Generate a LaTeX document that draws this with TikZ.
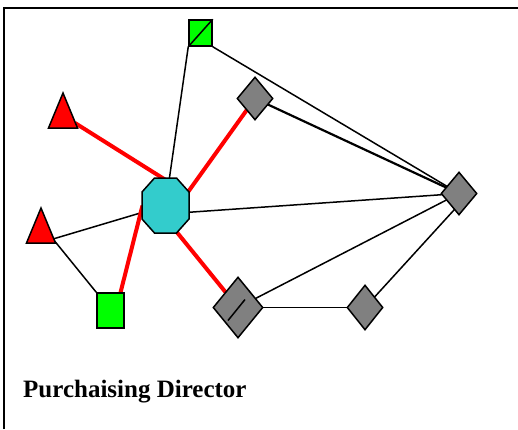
\documentclass[tikz,border=0pt]{standalone}
\usepackage{fontspec}
\setmainfont{Liberation Serif}
\usetikzlibrary{shapes.geometric,calc}
\definecolor{actgreen}{RGB}{0,255,0}
\definecolor{actred}{RGB}{255,0,0}
\definecolor{actteal}{RGB}{51,204,204}
\definecolor{actgrey}{RGB}{128,128,128}
\tikzset{
  tie/.style={black,line width=1.5pt},
  strongtie/.style={actred,line width=4pt},
  shapeline/.style={draw=black,line width=1.5pt,line join=miter},
  gsquare/.style={shapeline,fill=actgreen,rectangle,inner sep=0pt},
  gdiamond/.style={shapeline,fill=actgrey,diamond,inner sep=0pt},
}
\begin{document}
\begin{tikzpicture}[x=1pt,y=-1pt]
\useasboundingbox (0,0) rectangle (518,429);
% frame
\draw[line width=1.4pt] (4,429) -- (4,8) -- (518,8);

% actor positions
\coordinate (t1) at (63,111);
\coordinate (t2) at (41,226);
\coordinate (oct) at (165.5,205.5);
\node[gsquare,minimum width=23pt,minimum height=26pt] (gt) at (200.5,33) {};
\node[gsquare,minimum width=27pt,minimum height=35pt] (gb) at (110.5,310.5) {};
\coordinate (d1) at (255,98.5);
\coordinate (rd) at (459,193.5);
\coordinate (bd) at (238,307.5);
\coordinate (sd) at (365,307.5);

% ties
\draw[tie] (gt.south west) -- (oct);
\draw[tie] (gt.south east) -- (rd);
\draw[black,line width=2.2pt] (d1) -- (rd);
\draw[tie] ($(oct)+(20,7)$) -- (rd);
\draw[tie] ($(t2)+(12,13)$) -- (oct);
\draw[tie] ($(t2)+(12,13)$) -- (gb.north west);
\draw[tie] (bd) -- (rd);
\draw[tie] (bd) -- (sd);
\draw[tie] (sd) -- ($(rd)+(0,11)$);
\draw[strongtie] ($(t1)+(12,12)$) -- ($(oct)+(1,-25)$);
\draw[strongtie] ($(oct)+(20,-10)$) -- (d1);
\draw[strongtie] ($(oct)+(-23,0)$) -- ($(gb)+(8,-10)$);
\draw[strongtie] ($(oct)+(10,25)$) -- (bd);

% actors drawn over the ties
\node[gsquare,minimum width=23pt,minimum height=26pt] (gtop) at (gt) {};
\draw[tie] (gtop.south west) -- (gtop.north east);
\node[gsquare,minimum width=27pt,minimum height=35pt] (gbot) at (gb) {};
\draw[shapeline,fill=actred] ($(t1)+(0,-18)$) -- ($(t1)+(14.5,17)$) -- ($(t1)+(-14.5,17)$) -- cycle;
\draw[shapeline,fill=actred] ($(t2)+(0,-18)$) -- ($(t2)+(14.5,17)$) -- ($(t2)+(-14.5,17)$) -- cycle;
\draw[shapeline,fill=actteal]
  ($(oct)+(-11,-27.5)$) -- ($(oct)+(11,-27.5)$) -- ($(oct)+(23.5,-13.5)$) -- ($(oct)+(23.5,13.5)$)
  -- ($(oct)+(11,27.5)$) -- ($(oct)+(-11,27.5)$) -- ($(oct)+(-23.5,13.5)$) -- ($(oct)+(-23.5,-13.5)$) -- cycle;
\node[gdiamond,minimum width=36pt,minimum height=43pt] (dtop) at (d1) {};
\node[gdiamond,minimum width=36pt,minimum height=43pt] (dright) at (rd) {};
\node[gdiamond,minimum width=50pt,minimum height=61pt] (dbig) at (bd) {};
\draw[tie] ($(dbig)+(-10,13)$) -- ($(dbig)+(7,-8)$);
\node[gdiamond,minimum width=36pt,minimum height=45pt] (dsmall) at (sd) {};

% caption
\node[anchor=base west,inner sep=0pt,font=\fontsize{25}{29}\selectfont\bfseries] (cap) at (23,397) {Purchaising Director};
\end{tikzpicture}
\end{document}
